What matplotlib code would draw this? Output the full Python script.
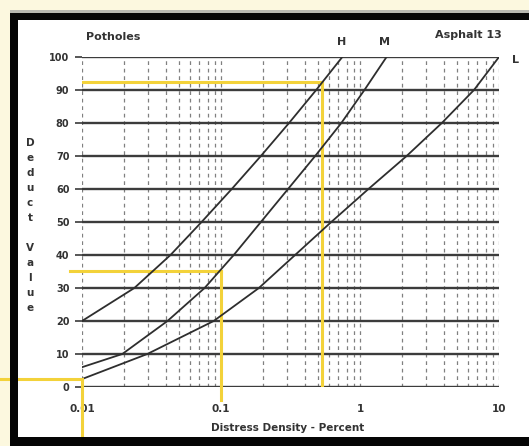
import matplotlib
matplotlib.use("Agg")
import matplotlib.pyplot as plt
from matplotlib.patches import Rectangle

# ---- data ----
h_density = [0.01, 0.0238, 0.0433, 0.0725, 0.1195, 0.1936, 0.3087, 0.4839, 0.746]
h_deduct = [20, 30, 40, 50, 60, 70, 80, 90, 100]

m_density = [0.01, 0.0195, 0.0412, 0.0762, 0.1235, 0.1936, 0.3036, 0.476, 0.734, 1.076, 1.552]
m_deduct = [6, 10, 20, 30, 40, 50, 60, 70, 80, 90, 100]

l_density = [0.01, 0.0295, 0.0886, 0.1873, 0.3412, 0.6213, 1.150, 2.165, 3.879, 6.607, 10.0]
l_deduct = [2.4, 10, 20, 30, 40, 50, 60, 70, 80, 90, 100]

y_ticks = [0, 10, 20, 30, 40, 50, 60, 70, 80, 90, 100]
x_ticks = [0.01, 0.1, 1, 10]
x_tick_labels = ["0.01", "0.1", "1", "10"]

# example readings (yellow guide lines)
read1_density, read1_value = 0.535, 92.5
read2_density, read2_value = 0.1, 35.2
read3_density, read3_value = 0.01, 2.4

W, H = 529, 446
fig = plt.figure(figsize=(W / 100, H / 100), dpi=100)
fig.patch.set_facecolor("white")

def fx(px):
    return px / W

def fy(py):
    return 1 - py / H

# background / frame
fig.add_artist(Rectangle((0, fy(13)), 1, 1 - fy(13), transform=fig.transFigure,
                         facecolor="#fcf8df", edgecolor="none", zorder=0))
fig.add_artist(Rectangle((0, 0), fx(10), 1, transform=fig.transFigure,
                         facecolor="#fcf8df", edgecolor="none", zorder=0))
fig.add_artist(Rectangle((fx(10), fy(13)), 1, fy(10) - fy(13), transform=fig.transFigure,
                         facecolor="#b8b8b0", edgecolor="none", zorder=1))
fig.add_artist(Rectangle((fx(10), fy(20)), 1, fy(13) - fy(20), transform=fig.transFigure,
                         facecolor="#050505", edgecolor="none", zorder=1))
fig.add_artist(Rectangle((fx(10), 0), fx(8), fy(13), transform=fig.transFigure,
                         facecolor="#050505", edgecolor="none", zorder=1))
fig.add_artist(Rectangle((fx(10), 0), 1, fy(437), transform=fig.transFigure,
                         facecolor="#050505", edgecolor="none", zorder=1))

ax = fig.add_axes([fx(82), fy(387), fx(499) - fx(82), fy(57) - fy(387)])
ax.set_facecolor("none")
ax.set_xscale("log")
ax.set_xlim(0.01, 10)
ax.set_ylim(0, 100)
for s in ax.spines.values():
    s.set_visible(False)

# vertical dashed grid (minor + major)
for dec in [0.01, 0.1, 1]:
    for k in range(1, 10):
        v = dec * k
        ax.axvline(v, color="#808080", lw=0.9, ls=(0, (3, 3)), zorder=1)
ax.axvline(10, color="#808080", lw=0.9, ls=(0, (3, 3)), zorder=1)

# horizontal grid
for yv in y_ticks:
    ax.axhline(yv, color="#3c3c3c", lw=1.7, zorder=2)

# yellow guide lines
yel = "#f3d23a"
ax.plot([read1_density, read1_density], [0, read1_value], color=yel, lw=2.2, zorder=3)
ax.plot([0.01, read1_density], [read1_value, read1_value], color=yel, lw=2.2, zorder=3)
ax.plot([0.0082, read2_density], [read2_value, read2_value], color=yel, lw=2.2, zorder=3, clip_on=False)
ax.plot([read2_density, read2_density], [-4, read2_value], color=yel, lw=2.2, zorder=3, clip_on=False)
# reading at 0.01 extends through the frame
ax.plot([read3_density, read3_density], [read3_value, -18], color=yel, lw=2.2, zorder=6, clip_on=False)
ax.plot([0.0017, read3_density], [read3_value, read3_value], color=yel, lw=2.2, zorder=6, clip_on=False)

# curves
for d, v in [(h_density, h_deduct), (m_density, m_deduct), (l_density, l_deduct)]:
    ax.plot(d, v, color="#2e2e2e", lw=1.3, zorder=4, solid_joinstyle="round")

ax.set_yticks(y_ticks)
ax.set_yticklabels([str(t) for t in y_ticks])
ax.set_xticks(x_ticks)
ax.set_xticklabels(x_tick_labels)
ax.minorticks_off()
ax.tick_params(axis="y", length=5, width=1.2, color="#3a3a3a", pad=4,
               labelsize=7, labelcolor="#333333")
ax.tick_params(axis="x", length=0, pad=12, labelsize=7.5, labelcolor="#333333")
for lab in ax.get_xticklabels() + ax.get_yticklabels():
    lab.set_fontweight("bold")

# curve labels
ax.text(0.74, 103, "H", ha="center", va="bottom", fontsize=8, fontweight="bold",
        color="#333333", clip_on=False)
ax.text(1.5, 103, "M", ha="center", va="bottom", fontsize=8, fontweight="bold",
        color="#333333", clip_on=False)
ax.text(12.5, 99, "L", ha="left", va="center", fontsize=8, fontweight="bold",
        color="#333333", clip_on=False)

# titles
fig.text(fx(86), fy(37), "Potholes", ha="left", va="center", fontsize=8,
         fontweight="bold", color="#333333")
fig.text(fx(502), fy(35), "Asphalt 13", ha="right", va="center", fontsize=8,
         fontweight="bold", color="#333333")

# x label
fig.text(fx(288), fy(428), "Distress Density - Percent", ha="center", va="center",
         fontsize=7.5, fontweight="bold", color="#333333")

# stacked y label
ylab = "Deduct Value"
y0 = 143
for i, ch in enumerate(ylab):
    if ch != " ":
        fig.text(fx(30), fy(y0 + 15 * i), ch, ha="center", va="center", fontsize=7.5,
                 fontweight="bold", color="#333333")

fig.savefig("out.png", dpi=100)
